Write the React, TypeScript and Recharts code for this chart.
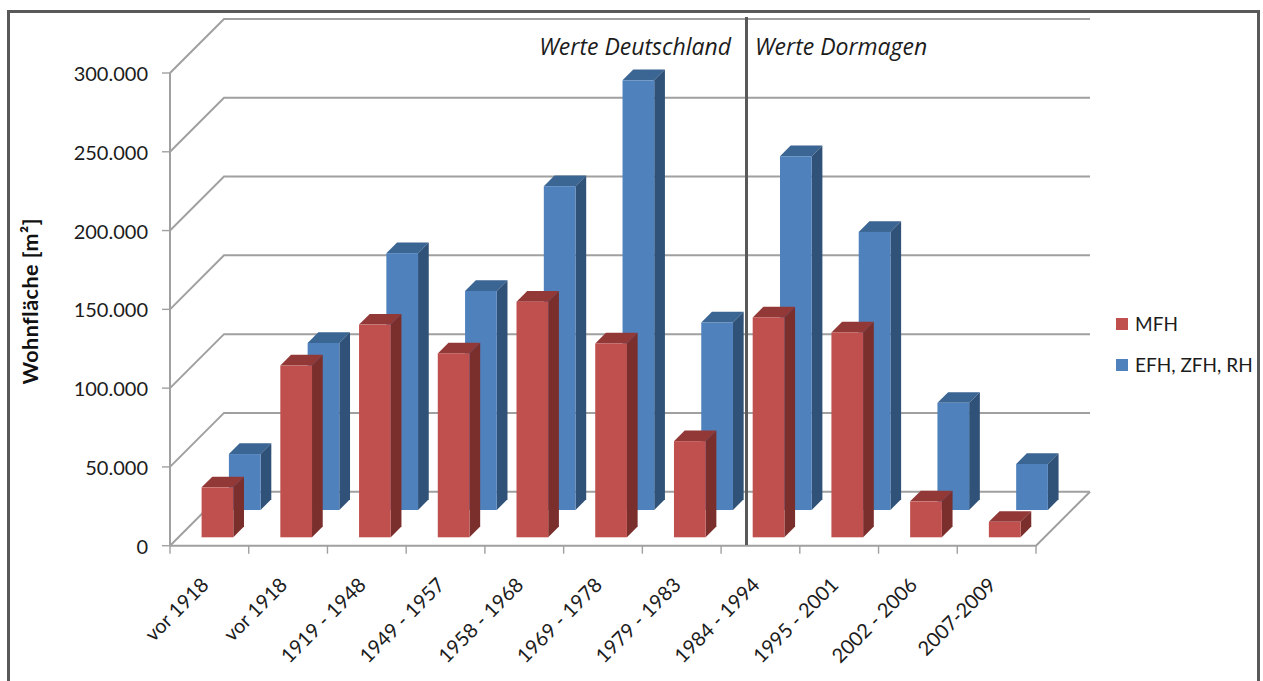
import { BarChart, Bar, XAxis, YAxis, CartesianGrid, Legend, Label } from "recharts"

const categories = ["vor 1918", "vor 1918", "1919 - 1948", "1949 - 1957", "1958 - 1968", "1969 - 1978", "1979 - 1983", "1984 - 1994", "1995 - 2001", "2002 - 2006", "2007-2009"]
const mfh = [31700, 109000, 135000, 116700, 149500, 123000, 61000, 139500, 130000, 22800, 9800]
const efh = [35500, 106000, 163000, 139000, 205500, 272700, 119000, 224500, 176500, 68000, 29200]
const yTicks = [0, 50000, 100000, 150000, 200000, 250000, 300000]

const data = categories.map((label, i) => ({ label, mfh: mfh[i], efh: efh[i] }))

const FONT = "Lato, sans-serif"
const TEXT = "#1c1c1c"
const GRID = "#a0a0a0"
const WIDTH = 1263
const HEIGHT = 681
const LEFT = 170
const RIGHT = 1036
const TOP = 73
const BOTTOM = 545.7
const WALL_DEPTH = 54
const BAND = (RIGHT - LEFT) / categories.length
const BAR_SIZE = 31.7
const BAR_DEPTH = 10.7

// excel style 3d column, shifted back along the floor by "row"
const column3d = (row: number, front: string, top: string, side: string) => (props: any) => {
  const { x, y, width, height } = props
  const l = x + row - 0.8
  const r = l + width
  const t = y - row
  const b = t + height
  const d = BAR_DEPTH
  return (
    <g>
      <polygon points={`${l},${t} ${l + d},${t - d} ${r + d},${t - d} ${r},${t}`} fill={top} />
      <polygon points={`${r},${t} ${r + d},${t - d} ${r + d},${b - d} ${r},${b}`} fill={side} />
      <rect x={l} y={t} width={width} height={height} fill={front} />
    </g>
  )
}

const wallLine = (props: any) => {
  const { x1, x2, y1, index } = props
  const backY = y1 - WALL_DEPTH
  const floor = Math.abs(y1 - BOTTOM) < 1
  return (
    <g key={index} stroke={GRID} strokeWidth={2} fill="none">
      <polyline points={`${x1},${y1} ${x1 + WALL_DEPTH},${backY} ${x2 + WALL_DEPTH},${backY}`} />
      {floor && <polyline points={`${x1},${y1} ${x2},${y1} ${x2 + WALL_DEPTH},${backY}`} />}
    </g>
  )
}

const CategoryTick = (props: any) => {
  const { x, y, payload, index } = props
  const left = x - BAND / 2
  const tx = x + 0.5
  const ty = y + 38.5
  return (
    <g>
      <line x1={left} x2={left} y1={BOTTOM} y2={BOTTOM + 8} stroke={GRID} strokeWidth={1.4} />
      {index === categories.length - 1 && (
        <line x1={left + BAND} x2={left + BAND} y1={BOTTOM} y2={BOTTOM + 8} stroke={GRID} strokeWidth={1.4} />
      )}
      <text x={tx} y={ty} transform={`rotate(-45 ${tx} ${ty})`} textAnchor="end" fontSize={20} fontFamily={FONT} fill={TEXT}>
        {payload.value}
      </text>
    </g>
  )
}

const LegendBox = ({ payload }: any) => (
  <div style={{ fontFamily: FONT, fontSize: 19, color: TEXT }}>
    {[...(payload || [])].reverse().map((item: any) => (
      <div key={item.value} style={{ display: "flex", alignItems: "center", height: 41, whiteSpace: "nowrap" }}>
        <span style={{ width: 12, height: 12, background: item.color, marginRight: 7 }} />
        {item.value}
      </div>
    ))}
  </div>
)

export default function App() {
  return (
    <div style={{ position: "fixed", left: 0, top: 0, width: WIDTH, height: HEIGHT, overflow: "hidden", background: "#fff" }}>
      <div style={{ position: "absolute", left: 7, top: 10, width: 1247, height: 700, border: "3px solid #595959" }} />
      <BarChart
        width={WIDTH}
        height={HEIGHT}
        data={data}
        margin={{ top: TOP, right: WIDTH - RIGHT, bottom: 0, left: 0 }}
        barSize={BAR_SIZE}
        barGap={-BAR_SIZE}
        style={{ position: "absolute", left: 0, top: 0 }}
      >
        <CartesianGrid vertical={false} horizontal={wallLine} />
        <XAxis
          dataKey="label"
          height={HEIGHT - BOTTOM}
          interval={0}
          tickLine={false}
          tickSize={0}
          axisLine={false}
          tick={CategoryTick}
        />
        <YAxis
          width={LEFT}
          domain={[0, 300000]}
          ticks={yTicks}
          tickSize={8}
          tickMargin={14}
          tickFormatter={(v: number) => v.toLocaleString("de-DE")}
          tick={{ fontSize: 20, fontFamily: FONT, fill: TEXT, dy: 1 }}
          axisLine={{ stroke: GRID, strokeWidth: 2 }}
          tickLine={{ stroke: GRID, strokeWidth: 1.4 }}
        >
          <Label
            value="Wohnfläche [m²]"
            angle={-90}
            position="insideLeft"
            offset={30}
            textAnchor="middle"
            dy={-8}
            style={{ fontSize: 21.5, fontWeight: 700, letterSpacing: 0.5, fontFamily: FONT, fill: "#111" }}
          />
        </YAxis>
        <Legend
          layout="vertical"
          align="center"
          verticalAlign="middle"
          content={LegendBox}
          wrapperStyle={{ left: 1116, top: 303, width: 144, height: 82 }}
        />
        <Bar dataKey="efh" name="EFH, ZFH, RH" fill="#4f81bd" legendType="square" isAnimationActive={false} shape={column3d(35.7, "#4f81bd", "#3b6592", "#305279")} />
        <Bar dataKey="mfh" name="MFH" fill="#c0504d" legendType="square" isAnimationActive={false} shape={column3d(8.4, "#c0504d", "#923937", "#7b2f2d")} />
      </BarChart>
      <div style={{ position: "absolute", left: 745, top: 17, width: 3, height: 528, background: "#595959" }} />
      <div style={{ position: "absolute", right: 532, top: 30, fontFamily: "'Open Sans', sans-serif", fontStyle: "italic", fontSize: 23, color: TEXT, whiteSpace: "nowrap" }}>Werte Deutschland</div>
      <div style={{ position: "absolute", left: 755, top: 30, fontFamily: "'Open Sans', sans-serif", fontStyle: "italic", fontSize: 23, color: TEXT, whiteSpace: "nowrap" }}>Werte Dormagen</div>
    </div>
  )
}
